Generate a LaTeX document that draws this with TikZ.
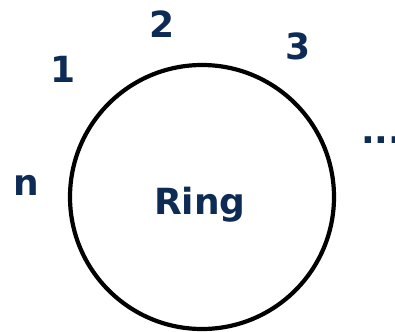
\documentclass[tikz,border=0pt]{standalone}
\usepackage{fontspec}
\setmainfont{DejaVu Sans}
\definecolor{ringblue}{HTML}{0E2B55}
\begin{document}
\begin{tikzpicture}[x=1pt,y=-1pt,line cap=round,line join=round]
  \tikzset{lbl/.style={text=ringblue,font=\fontsize{36}{36}\selectfont\bfseries,inner sep=0pt}}
  \useasboundingbox (0,0) rectangle (395,331);
  \clip (0,0) rectangle (395,331);
  \draw[line width=4.2pt] (202,197) circle (132);
  \node[lbl] (ring) at (200,205) {Ring};
  \node[lbl] (one) at (63,69) {1};
  \node[lbl] (two) at (162,24) {2};
  \node[lbl] (three) at (298,46) {3};
  \node[lbl,anchor=base west] (dots) at (361,143) {...};
  \node[lbl] (n) at (26,185) {n};
\end{tikzpicture}
\end{document}
